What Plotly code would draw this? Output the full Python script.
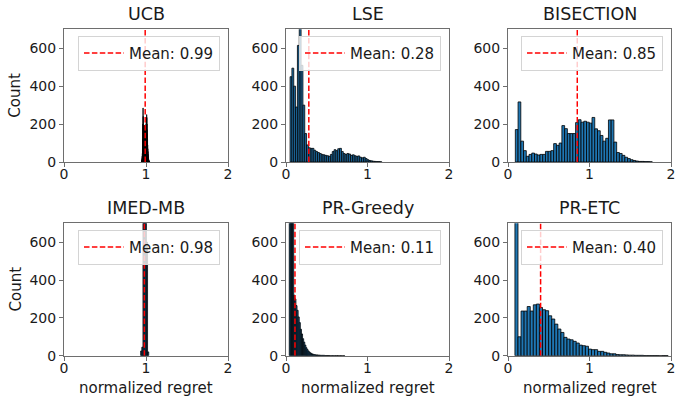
import numpy as np
import plotly.graph_objects as go

# ---------------------------------------------------------------- data
methods = ["UCB", "LSE", "BISECTION", "IMED-MB", "PR-Greedy", "PR-ETC"]
mean_regret = [0.99, 0.28, 0.85, 0.98, 0.11, 0.40]

# histogram bins: (first edge, last edge) and the count in each bin
ucb_bins = (0.945, 1.045)
ucb_counts = [2, 5, 10, 18, 30, 45, 70, 120, 200, 285,
              240, 180, 150, 190, 170, 185, 195, 175, 190, 180,
              185, 170, 195, 180, 190, 175, 185, 190, 200, 210,
              230, 250, 235, 200, 170, 150, 120, 90, 70, 55,
              40, 30, 22, 15, 10, 7, 5, 3, 2, 1]

lse_bins = (0.05, 1.175)
lse_counts = [450, 495, 400, 290, 615, 760, 510, 300, 150, 90,
              75, 72, 72, 62, 55, 50, 45, 40, 38, 35,
              33, 30, 40, 55, 65, 60, 70, 72, 55, 45,
              40, 45, 42, 35, 38, 33, 30, 32, 25, 22,
              25, 18, 12, 8, 6, 4, 3, 2, 2, 1]

bisection_bins = (0.09, 1.77)
bisection_counts = [171, 317, 110, 60, 30, 40, 47, 42, 37, 40,
                    40, 56, 56, 60, 97, 88, 100, 192, 176, 150,
                    150, 150, 208, 223, 210, 215, 210, 205, 235, 175,
                    165, 140, 110, 125, 222, 222, 105, 50, 45, 35,
                    25, 18, 12, 8, 5, 3, 3, 2, 2, 1]

imed_bins = (0.935, 1.033)
imed_counts = [25, 45, 1300, 1700, 1400, 600, 20]

greedy_bins = (0.04, 0.72)
greedy_counts = [950, 1500, 1250, 820, 320, 300, 265, 240, 205, 175,
                 140, 115, 90, 72, 56, 42, 32, 24, 18, 14,
                 10, 8, 6, 5, 4, 4, 3, 3, 2, 2,
                 2, 2, 1, 1, 1, 1, 1, 0, 1, 1,
                 0, 1, 0, 1, 0, 0, 1, 0, 0, 1]

etc_bins = (0.085, 1.965)
etc_counts = [1150, 100, 236, 236, 260, 236, 269, 273, 255, 243,
              238, 211, 194, 167, 141, 123, 97, 88, 84, 76,
              67, 56, 53, 50, 35, 32, 32, 23, 23, 18,
              14, 10, 10, 6, 5, 5, 4, 3, 3, 2,
              2, 2, 1, 1, 1, 1, 1, 0, 1, 1]

x_ticks = [0, 1, 2]
y_ticks = [0, 200, 400, 600]
X_LIM = (0, 2)
Y_LIM = (0, 700)

hist_bins = [ucb_bins, lse_bins, bisection_bins, imed_bins, greedy_bins, etc_bins]
hist_counts = [ucb_counts, lse_counts, bisection_counts, imed_counts, greedy_counts, etc_counts]

# ---------------------------------------------------------------- layout geometry (pixels)
W, H = 676, 398
col_px = [(64, 228), (286, 449), (508, 671)]
row_px = [(29.3, 162.0), (223.3, 355.7)]

FONT = "DejaVu Sans"
TXT = "#1a1a1a"
SPINE = "#6e6e6e"
BAR_FILL = "#1f77b4"

fig = go.Figure()
layout = dict(
    width=W, height=H,
    margin=dict(l=0, r=0, t=0, b=0, autoexpand=False),
    paper_bgcolor="white", plot_bgcolor="white",
    font=dict(family=FONT, color=TXT, size=14),
    showlegend=True,
    annotations=[],
)

for k, (name, m, (lo, hi), counts) in enumerate(zip(methods, mean_regret, hist_bins, hist_counts)):
    r, c = divmod(k, 3)
    idx = "" if k == 0 else str(k + 1)
    xa, ya = "x" + idx, "y" + idx
    leg = "legend" + idx

    edges = np.linspace(lo, hi, len(counts) + 1)
    centers = (edges[:-1] + edges[1:]) / 2
    width = edges[1] - edges[0]

    fig.add_trace(go.Bar(
        x=centers, y=counts, width=width,
        marker=dict(color=BAR_FILL, line=dict(color="black", width=0.8)),
        showlegend=False, xaxis=xa, yaxis=ya, hoverinfo="skip",
    ))
    fig.add_trace(go.Scatter(
        x=[m, m], y=list(Y_LIM), mode="lines",
        line=dict(color="#ff0000", width=1.5, dash="5.5px,2.4px"),
        name=f"Mean: {m:.2f}", legend=leg, xaxis=xa, yaxis=ya,
    ))

    x0, x1 = col_px[c]
    y0, y1 = row_px[r]
    xdom = [x0 / W, x1 / W]
    ydom = [1 - y1 / H, 1 - y0 / H]

    axis_common = dict(
        automargin=False,
        showline=True, linecolor=SPINE, linewidth=1, mirror=True,
        showgrid=False, zeroline=False,
        ticks="outside", ticklen=4, tickwidth=1, tickcolor=SPINE,
        tickfont=dict(family=FONT, size=14, color=TXT),
    )
    layout["xaxis" + idx] = dict(
        domain=xdom, anchor=ya, range=list(X_LIM),
        tickmode="array", tickvals=x_ticks, ticktext=[str(t) for t in x_ticks],
        ticklabelstandoff=-5,
        **axis_common,
    )
    layout["yaxis" + idx] = dict(
        domain=ydom, anchor=xa, range=list(Y_LIM),
        tickmode="array", tickvals=y_ticks, ticktext=[str(t) for t in y_ticks],
        **axis_common,
    )
    layout[leg] = dict(
        x=(x1 - 8) / W, y=1 - (y0 + 6.5) / H,
        xanchor="right", yanchor="top",
        bgcolor="rgba(255,255,255,0.8)", bordercolor="#d4d4d4", borderwidth=1,
        font=dict(family=FONT, size=15, color=TXT),
        itemwidth=40,
    )

    # panel title
    layout["annotations"].append(dict(
        text=name, xref="paper", yref="paper",
        x=(x0 + x1) / 2 / W, y=1 - (y0 - 3) / H,
        xanchor="center", yanchor="bottom", showarrow=False,
        font=dict(family=FONT, size=17.5, color=TXT),
    ))
    # axis labels
    if c == 0:
        layout["annotations"].append(dict(
            text="Count", xref="paper", yref="paper",
            x=15 / W, y=1 - (y0 + y1) / 2 / H, textangle=-90,
            xanchor="center", yanchor="middle", showarrow=False,
            font=dict(family=FONT, size=15, color=TXT),
        ))
    if r == 1:
        layout["annotations"].append(dict(
            text="normalized regret", xref="paper", yref="paper",
            x=(x0 + x1) / 2 / W, y=1 - 388 / H,
            xanchor="center", yanchor="middle", showarrow=False,
            font=dict(family=FONT, size=15, color=TXT),
        ))

fig.update_layout(**layout)
fig.write_html("out.html", config={"staticPlot": True})
